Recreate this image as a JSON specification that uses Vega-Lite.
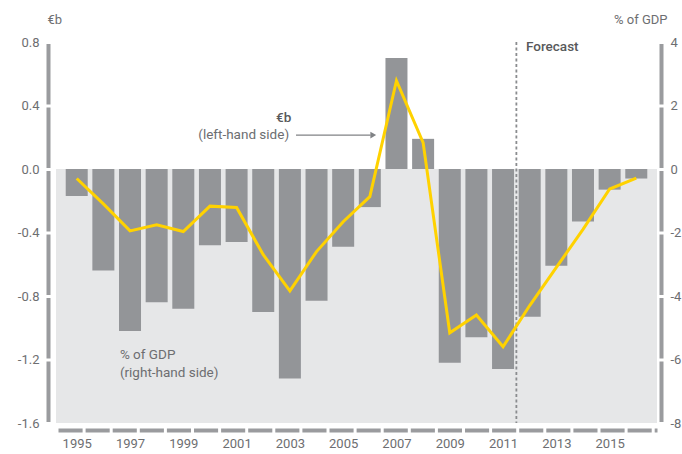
{
  "$schema": "https://vega.github.io/schema/vega-lite/v6.json",
  "width": 601,
  "height": 381,
  "autosize": {"type": "none"},
  "padding": {"left": 56, "top": 42, "right": 25, "bottom": 31},
  "background": "white",
  "data": {
    "values": [
      {"year": 1995, "eb": -0.17, "gdp": -0.3},
      {"year": 1996, "eb": -0.64, "gdp": -1.1},
      {"year": 1997, "eb": -1.02, "gdp": -1.95},
      {"year": 1998, "eb": -0.84, "gdp": -1.76},
      {"year": 1999, "eb": -0.88, "gdp": -1.97},
      {"year": 2000, "eb": -0.48, "gdp": -1.17},
      {"year": 2001, "eb": -0.46, "gdp": -1.21},
      {"year": 2002, "eb": -0.90, "gdp": -2.7},
      {"year": 2003, "eb": -1.32, "gdp": -3.84},
      {"year": 2004, "eb": -0.83, "gdp": -2.6},
      {"year": 2005, "eb": -0.49, "gdp": -1.66},
      {"year": 2006, "eb": -0.24, "gdp": -0.87},
      {"year": 2007, "eb": 0.70, "gdp": 2.78},
      {"year": 2008, "eb": 0.19, "gdp": 0.83},
      {"year": 2009, "eb": -1.22, "gdp": -5.16},
      {"year": 2010, "eb": -1.06, "gdp": -4.6},
      {"year": 2011, "eb": -1.26, "gdp": -5.6},
      {"year": 2012, "eb": -0.93, "gdp": -4.3},
      {"year": 2013, "eb": -0.61, "gdp": -3.1},
      {"year": 2014, "eb": -0.33, "gdp": -1.9},
      {"year": 2015, "eb": -0.13, "gdp": -0.63},
      {"year": 2016, "eb": -0.06, "gdp": -0.29}
    ]
  },
  "layer": [
    {
      "layer": [
        {
          "data": {"values": [{}]},
          "mark": {"type": "rect", "color": "#e6e7e8"},
          "encoding": {
            "y": {"datum": 0},
            "y2": {"datum": -1.6}
          }
        },
        {
          "mark": {"type": "bar", "width": 22, "color": "#939598"},
          "encoding": {
            "x": {
              "field": "year",
              "type": "quantitative",
              "scale": {"domain": [1994.41, 2016.59], "nice": false, "zero": false},
              "axis": {
                "values": [1995, 1997, 1999, 2001, 2003, 2005, 2007, 2009, 2011, 2013, 2015],
                "format": "d",
                "title": null,
                "offset": 7,
                "labelPadding": 7,
                "labelFlush": false,
                "labelOverlap": false,
                "domainDash": [24.1, 3],
                "domainDashOffset": 25.1
              }
            },
            "y": {
              "field": "eb",
              "type": "quantitative",
              "scale": {"domain": [-1.6, 0.8], "nice": false, "zero": false},
              "axis": {
                "orient": "left",
                "values": [-1.6, -1.2, -0.8, -0.4, 0, 0.4, 0.8],
                "labelExpr": "replace(format(datum.value, '.1f'), '\u2212', '-')",
                "title": "€b",
                "titleAngle": 0,
                "titleAlign": "left",
                "titleBaseline": "middle",
                "titleX": -1,
                "titleY": -23,
                "offset": 8,
                "labelPadding": 9,
                "domainDash": [60.5, 3],
                "domainDashOffset": 62
              }
            }
          }
        },
        {
          "data": {"values": [{}]},
          "mark": {"type": "rule", "color": "#8a8c8f", "strokeDash": [3, 2.5], "strokeWidth": 1.8},
          "encoding": {
            "x": {"datum": 2011.5},
            "y": {"datum": 0.8},
            "y2": {"datum": -1.6}
          }
        },
        {
          "data": {"values": [{"label": "Forecast"}]},
          "mark": {"type": "text", "align": "left", "baseline": "middle", "fontSize": 13.5, "fontWeight": 500, "color": "#58595b"},
          "encoding": {
            "text": {"field": "label"},
            "x": {"datum": 2011.86},
            "y": {"datum": 0.77}
          }
        },
        {
          "data": {"values": [{"label": "€b"}]},
          "mark": {"type": "text", "align": "right", "baseline": "middle", "fontSize": 13.5, "fontWeight": 500, "color": "#58595b"},
          "encoding": {
            "text": {"field": "label"},
            "x": {"datum": 2003.05},
            "y": {"datum": 0.321}
          }
        },
        {
          "data": {"values": [{"label": "(left-hand side)"}]},
          "mark": {"type": "text", "align": "right", "baseline": "middle", "fontSize": 13.5, "color": "#6d6e71"},
          "encoding": {
            "text": {"field": "label"},
            "x": {"datum": 2002.97},
            "y": {"datum": 0.214}
          }
        },
        {
          "data": {"values": [{}]},
          "mark": {"type": "rule", "color": "#808285", "strokeWidth": 1.2},
          "encoding": {
            "x": {"datum": 2003.23},
            "x2": {"datum": 2006.03},
            "y": {"datum": 0.214}
          }
        },
        {
          "data": {"values": [{}]},
          "mark": {"type": "point", "shape": "triangle-right", "filled": true, "size": 45, "color": "#808285", "opacity": 1},
          "encoding": {
            "x": {"datum": 2006.13},
            "y": {"datum": 0.214}
          }
        },
        {
          "data": {"values": [{"label": "% of GDP"}]},
          "mark": {"type": "text", "align": "left", "baseline": "middle", "fontSize": 13.5, "color": "#6d6e71"},
          "encoding": {
            "text": {"field": "label"},
            "x": {"datum": 1996.62},
            "y": {"datum": -1.172}
          }
        },
        {
          "data": {"values": [{"label": "(right-hand side)"}]},
          "mark": {"type": "text", "align": "left", "baseline": "middle", "fontSize": 13.5, "color": "#6d6e71"},
          "encoding": {
            "text": {"field": "label"},
            "x": {"datum": 1996.62},
            "y": {"datum": -1.283}
          }
        }
      ]
    },
    {
      "mark": {"type": "line", "color": "#ffd200", "strokeWidth": 3},
      "encoding": {
        "x": {"field": "year", "type": "quantitative"},
        "y": {
          "field": "gdp",
          "type": "quantitative",
          "scale": {"domain": [-8, 4], "nice": false, "zero": false},
          "axis": {
            "orient": "right",
            "values": [-8, -6, -4, -2, 0, 2, 4],
            "labelExpr": "replace(format(datum.value, 'd'), '\u2212', '-')",
            "title": "% of GDP",
            "titleAngle": 0,
            "titleAlign": "right",
            "titleBaseline": "middle",
            "titleX": 6,
            "titleY": -23,
            "offset": 4,
            "labelPadding": 9,
            "domainDash": [60.5, 3],
            "domainDashOffset": 62
          }
        }
      }
    }
  ],
  "resolve": {"scale": {"y": "independent"}},
  "config": {
    "view": {"stroke": null},
    "font": "Roboto",
    "text": {"font": "Roboto"},
    "axis": {
      "labelFont": "Roboto",
      "labelFontSize": 13,
      "labelColor": "#6d6e71",
      "titleFont": "Roboto",
      "titleFontSize": 13,
      "titleFontWeight": "normal",
      "titleColor": "#6d6e71",
      "grid": false,
      "ticks": false,
      "tickSize": 0,
      "domainColor": "#9a9b9e",
      "domainWidth": 4
    }
  }
}
